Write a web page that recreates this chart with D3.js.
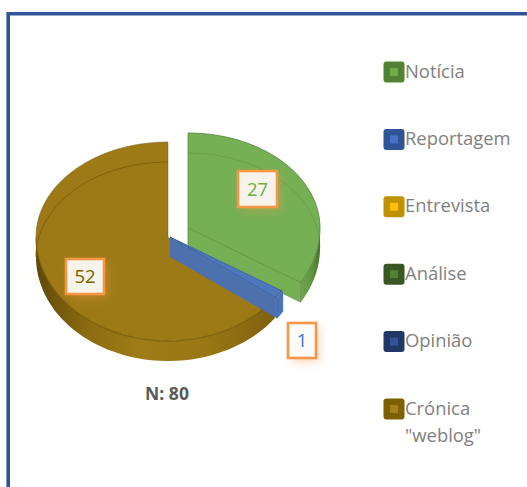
<!DOCTYPE html>
<html><head><meta charset="utf-8">
<script src="https://cdn.jsdelivr.net/npm/d3@7"></script>
<style>html,body{margin:0;padding:0;background:#fff;overflow:hidden}svg{display:block}</style>
</head><body><svg id="c" width="527" height="487"></svg>
<script>
const categories = ["Notícia","Reportagem","Entrevista","Análise","Opinião","Crónica \"weblog\""];
const values = [27,1,0,0,0,52];
const totalLabel = "N: 80";
const legendDark = ["#548235","#2f5597","#bf9000","#385723","#1f3864","#7f6000"];
const legendLight = ["#70ad47","#4472c4","#ffc000","#548235","#2f5597","#a5801a"];
const labelColors = ["#70ad47","#4472c4","#bf9000","#385723","#1f3864","#7f6000"];

const W=527,H=487;
const svg=d3.select("#c");
const defs=svg.append("defs");
const font="Open Sans, sans-serif";

// frame
svg.append("path").attr("d",`M8.2,${H+5}V13.8H${W+5}`).attr("fill","none").attr("stroke","#2f5597").attr("stroke-width",3.6);

// 3D projection
const CX=168,CY=237,DEPTH=20,RX=132,RB=95,RF=104;
const sx=d3.scaleLinear().domain([-1,1]).range([-RX,RX]);
const syBack=d3.scaleLinear().domain([0,1]).range([0,-RB]);
const syFront=d3.scaleLinear().domain([-1,0]).range([RF,0]);
function P(a,r,o,z){
  const s=Math.sin(a)*r,c=Math.cos(a)*r;
  return [CX+o[0]+sx(s), CY+o[1]+(c>=0?syBack(c):syFront(c))+z];
}
const line=d3.line();
const arcPts=(a0,a1,o,z)=>d3.range(0,61).map(i=>P(a0+(a1-a0)*i/60,1,o,z));
const pie=d3.pie().sort(null).value(d=>d).startAngle(0).endAngle(2*Math.PI);
const arcs=pie(values);

function sideGrad(id,x0,x1,stops){
  const g=defs.append("linearGradient").attr("id",id).attr("gradientUnits","userSpaceOnUse").attr("x1",x0).attr("x2",x1).attr("y1",0).attr("y2",0);
  stops.forEach(s=>g.append("stop").attr("offset",s[0]).attr("stop-color",s[1]));
}
sideGrad("gs",36,280,[[0,"#5e4708"],[0.07,"#6f550c"],[0.2,"#8a6a10"],[0.42,"#a07c18"],[0.7,"#9a7614"],[1,"#7d600e"]]);
sideGrad("ggs",300,322,[[0,"#6ea84e"],[0.55,"#5f9342"],[1,"#3f6a2a"]]);

const style=[
 {top:"#76b055",wall:"#76b055",side:"url(#ggs)",edge:"#548235",lineOp:.75,off:[20,-9]},
 {top:"#4f77bd",wall:"#4a70b4",side:"#4a72bb",edge:"#3f66ad",lineOp:.8,off:[2,0]},
 null,null,null,
 {top:"#9e7a16",wall:"#9e7a16",side:"url(#gs)",edge:"#745808",lineOp:.8,off:[0,0]}
];

function drawSlice(i){
  const d=arcs[i],st=style[i],o=st.off;
  const g=svg.append("g");
  const a0=d.startAngle,a1=d.endAngle;
  const f0=Math.max(a0,Math.PI/2),f1=Math.min(a1,3*Math.PI/2);
  if(f1>f0){
    const pts=arcPts(f0,f1,o,0).concat(arcPts(f1,f0,o,DEPTH));
    g.append("path").attr("d",line(pts)+"Z").attr("fill",st.side);
  }
  const apexT=P(0,0,o,0),apexB=P(0,0,o,DEPTH);
  const top=[apexT].concat(arcPts(a0,a1,o,0));
  g.append("path").attr("d",line(top)+"Z").attr("fill",st.top);
  if(i===0){
    const e=P(a1,1,o,0),eb=P(a1,1,o,DEPTH);
    g.append("path").attr("d",line([apexT,e,eb,apexB])+"Z").attr("fill",st.wall);
    g.append("path").attr("d",line([apexT,e])).attr("fill","none").attr("stroke",st.edge).attr("stroke-width",1).attr("opacity",st.lineOp);
    g.append("path").attr("d",line([e,eb])).attr("fill","none").attr("stroke",st.edge).attr("stroke-width",1).attr("opacity",.6);
    g.append("path").attr("d",line([apexB,eb])).attr("fill","none").attr("stroke",st.edge).attr("stroke-width",1).attr("opacity",.35);
    g.append("path").attr("d",line([P(0,1,o,0),apexT,apexB])).attr("fill","none").attr("stroke",st.edge).attr("stroke-width",1).attr("opacity",.7);
    g.append("path").attr("d",line(arcPts(a0,a1,o,0))).attr("fill","none").attr("stroke",st.edge).attr("stroke-width",1).attr("opacity",.8);
    g.append("path").attr("d",line(arcPts(a0,Math.PI/2,o,DEPTH))).attr("fill","none").attr("stroke",st.edge).attr("stroke-width",1).attr("opacity",.35);
  }
  if(i===5){
    g.append("path").attr("d",line(arcPts(3*Math.PI/2,a1,o,DEPTH))).attr("fill","none").attr("stroke",st.edge).attr("stroke-width",1).attr("opacity",.75);
    g.append("path").attr("d",line(arcPts(a0,3*Math.PI/2,o,0))).attr("fill","none").attr("stroke",st.edge).attr("stroke-width",1.2).attr("opacity",.85);
    g.append("path").attr("d",line(arcPts(3*Math.PI/2,a1,o,0))).attr("fill","none").attr("stroke",st.edge).attr("stroke-width",1).attr("opacity",.55);
    g.append("path").attr("d",line([P(a1,1,o,0),apexT])).attr("fill","none").attr("stroke",st.edge).attr("stroke-width",1).attr("opacity",.45);
  }
  if(i===1){
    const a=P(a1,1,o,0),b=P(a1,1,o,DEPTH),t=P(a0,1,o,0),tb=P(a0,1,o,DEPTH);
    g.append("path").attr("d",line([apexT,a,b,apexB])+"Z").attr("fill",st.wall).attr("opacity",.96);
    g.append("path").attr("d",line([a,t,tb,b])+"Z").attr("fill",st.side);
    g.append("path").attr("d",line([apexT,a])).attr("fill","none").attr("stroke","#3b5f9f").attr("stroke-width",1);
    g.append("path").attr("d",line([a,b])).attr("fill","none").attr("stroke","#3b5f9f").attr("stroke-width",1).attr("opacity",.7);
    g.append("path").attr("d",line([apexT,t])).attr("fill","none").attr("stroke","#3b5f9f").attr("stroke-width",1).attr("opacity",.9);
    g.append("path").attr("d",line([t,tb,b])).attr("fill","none").attr("stroke","#4a78c8").attr("stroke-width",1.2);
    const gold=style[5];
    g.append("path").attr("d",line(arcPts(a0-0.02,a1,[0,0],0))).attr("fill","none").attr("stroke",gold.edge).attr("stroke-width",1).attr("opacity",.7);
  }
}
[5,0,1].forEach(drawSlice);

// data labels
const blur=defs.append("filter").attr("id","glow").attr("x","-40%").attr("y","-40%").attr("width","190%").attr("height","190%");
blur.append("feGaussianBlur").attr("stdDeviation",4);
const labelBoxes=[[238,171,39,36],[288,323,28,35],null,null,null,[66,259,38,35]];
arcs.forEach((d,i)=>{
  if(!d.value) return;
  const b=labelBoxes[i];
  const g=svg.append("g");
  g.append("rect").attr("x",b[0]+4).attr("y",b[1]+4).attr("width",b[2]).attr("height",b[3]).attr("fill","#f79646").attr("opacity",.38).attr("filter","url(#glow)");
  g.append("rect").attr("x",b[0]).attr("y",b[1]).attr("width",b[2]).attr("height",b[3]).attr("fill",i===1?"#fbfbf9":"#f5f3ea").attr("stroke","#f79646").attr("stroke-width",2.6);
  g.append("text").attr("x",b[0]+b[2]/2).attr("y",b[1]+b[3]/2+6.5).attr("text-anchor","middle")
   .attr("font-family",font).attr("font-size",18.5).attr("fill",labelColors[i]).text(d.value);
});

svg.append("text").attr("x",167).attr("y",400).attr("text-anchor","middle").attr("font-family",font)
  .attr("font-size",17.5).attr("font-weight",700).attr("fill","#595959").text(totalLabel);

// legend
const ly=d3.scalePoint().domain(categories).range([72,409]);
categories.forEach((c,i)=>{
  const y=ly(c);
  svg.append("rect").attr("x",383.5).attr("y",y-10.5).attr("width",21).attr("height",21).attr("rx",3).attr("fill",legendDark[i]);
  svg.append("rect").attr("x",390).attr("y",y-4).attr("width",8).attr("height",8).attr("fill",legendLight[i]);
  const parts=c.split(" ");
  parts.forEach((t,k)=>svg.append("text").attr("x",405).attr("y",y+5.5+k*27).attr("font-family",font)
    .attr("font-size",18.4).attr("fill","#7f7f7f").text(t));
});
</script></body></html>
